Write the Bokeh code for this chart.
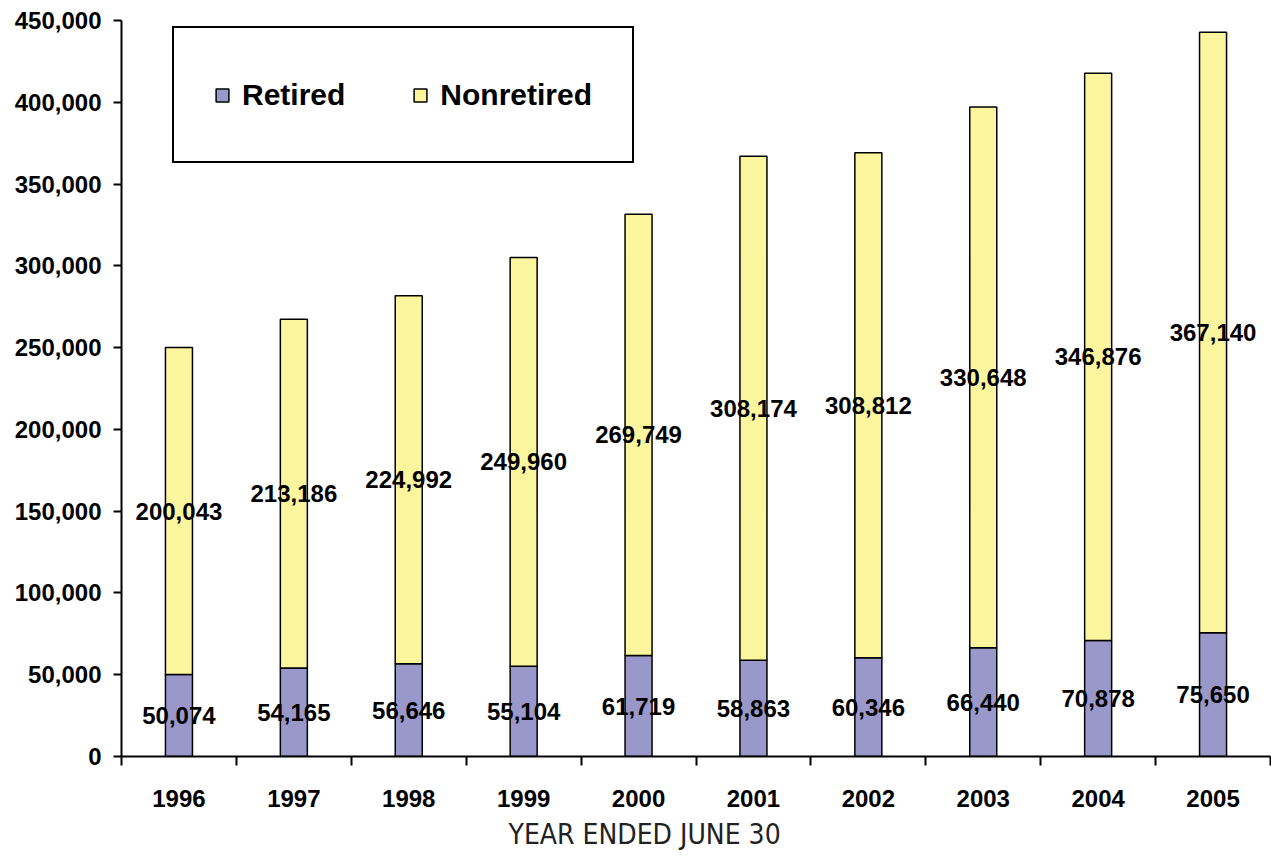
from bokeh.plotting import figure
from bokeh.models import (ColumnDataSource, Range1d, FixedTicker, NumeralTickFormatter,
                          Legend, LegendItem, Title)
from bokeh.core.properties import value
from bokeh.embed import file_html
from bokeh.resources import INLINE

# Membership by fiscal year
years = ["1996", "1997", "1998", "1999", "2000", "2001", "2002", "2003", "2004", "2005"]
retired = [50074, 54165, 56646, 55104, 61719, 58863, 60346, 66440, 70878, 75650]
nonretired = [200043, 213186, 224992, 249960, 269749, 308174, 308812, 330648, 346876, 367140]

RETIRED_COLOR = "#9A98CA"
NONRETIRED_COLOR = "#FBF59D"
FONT = "Liberation Sans"

xs = [i + 0.5 for i in range(len(years))]
totals = [r + n for r, n in zip(retired, nonretired)]

src = ColumnDataSource(dict(
    x=xs,
    retired=retired,
    nonretired=nonretired,
    total=totals,
    ret_mid=[r / 2 for r in retired],
    non_mid=[r + n / 2 for r, n in zip(retired, nonretired)],
    ret_txt=[f"{v:,}" for v in retired],
    non_txt=[f"{v:,}" for v in nonretired],
))

p = figure(width=1271, height=857, output_backend="svg", toolbar_location=None,
           x_range=Range1d(0, len(years)), y_range=Range1d(0, 450000),
           min_border_left=121, min_border_right=1, min_border_top=20, min_border_bottom=101)
p.outline_line_color = None
p.xgrid.grid_line_color = None
p.ygrid.grid_line_color = None
p.background_fill_color = "white"
p.border_fill_color = "white"

bar_w = 0.235
r_ret = p.vbar(x="x", bottom=0, top="retired", width=bar_w, source=src,
               fill_color=RETIRED_COLOR, line_color="black", line_width=1.5)
r_non = p.vbar(x="x", bottom="retired", top="total", width=bar_w, source=src,
               fill_color=NONRETIRED_COLOR, line_color="black", line_width=1.5)

# value labels centred in each segment
for col, ycol in (("ret_txt", "ret_mid"), ("non_txt", "non_mid")):
    p.text(x="x", y=ycol, text=col, source=src, text_align="center",
           text_baseline="middle", text_font=value(FONT), text_font_style="bold",
           text_font_size="24px", text_color="black")

# y axis
ya = p.yaxis[0]
ya.ticker = FixedTicker(ticks=list(range(0, 450001, 50000)))
ya.formatter = NumeralTickFormatter(format="0,0")
ya.axis_line_width = 2
ya.major_tick_line_width = 2
ya.major_tick_out = 8
ya.major_tick_in = 0
ya.minor_tick_line_color = None
ya.major_label_standoff = 12
ya.major_label_text_font = FONT
ya.major_label_text_font_style = "bold"
ya.major_label_text_font_size = "24px"
ya.major_label_text_color = "black"

# x axis: year labels at bar centres, ticks at category boundaries
xa = p.xaxis[0]
xa.ticker = FixedTicker(ticks=xs, minor_ticks=list(range(len(years) + 1)))
xa.major_label_overrides = {x: y for x, y in zip(xs, years)}
xa.axis_line_width = 2
xa.major_tick_line_color = None
xa.major_tick_out = 0
xa.major_tick_in = 0
xa.minor_tick_line_width = 2
xa.minor_tick_line_color = "black"
xa.minor_tick_out = 9
xa.minor_tick_in = 0
xa.major_label_standoff = 24
xa.major_label_text_font = FONT
xa.major_label_text_font_style = "bold"
xa.major_label_text_font_size = "24px"
xa.major_label_text_color = "black"

# axis caption, set a little left of the frame centre
caption = Title(text="YEAR ENDED JUNE 30", align="left", offset=387,
                text_font="DejaVu Sans Condensed", text_font_style="normal",
                text_font_size="28px", text_color="#222222", standoff=12)
p.add_layout(caption, "below")

legend = Legend(
    items=[LegendItem(label="Retired", renderers=[r_ret]),
           LegendItem(label="Nonretired", renderers=[r_non])],
    orientation="horizontal",
    location=(51, 593),
    glyph_width=16, glyph_height=16,
    label_text_font=FONT, label_text_font_style="bold", label_text_font_size="30px",
    label_text_color="black",
    label_standoff=12, spacing=67, padding=40, label_height=53,
    border_line_color="black", border_line_width=2, border_line_alpha=1.0,
    background_fill_color="white", background_fill_alpha=1.0,
    margin=0,
)
p.add_layout(legend, "center")

open("out.html", "w").write(file_html(p, INLINE))
